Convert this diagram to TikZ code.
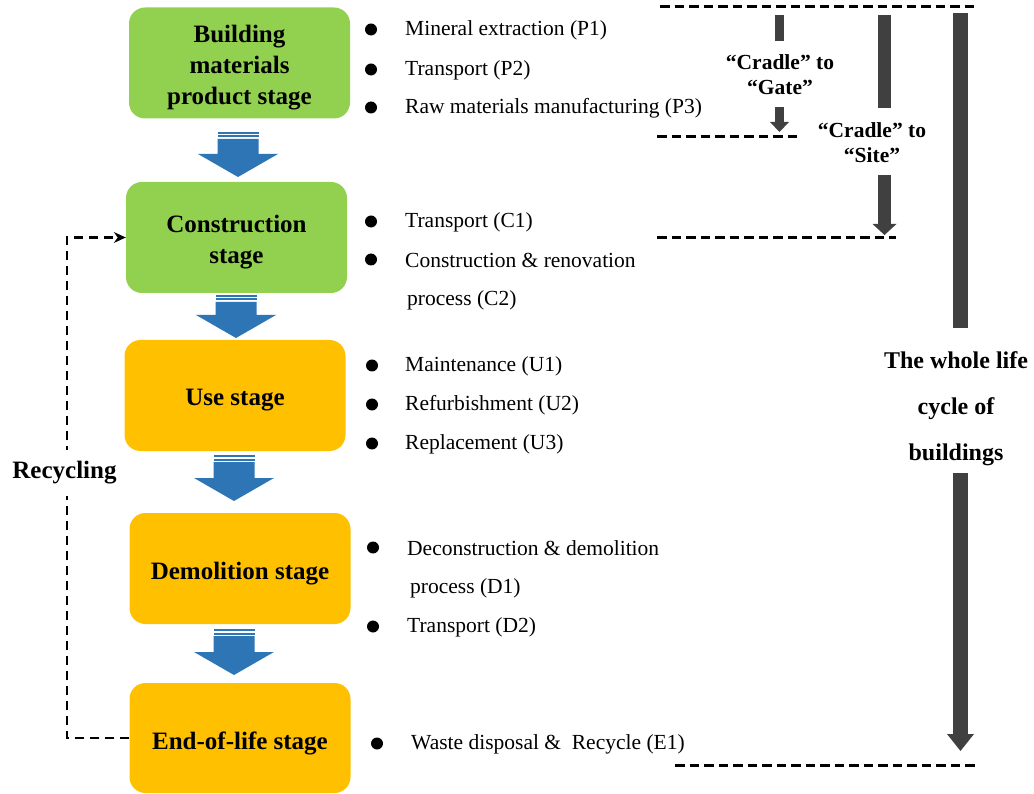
\documentclass[tikz,border=0pt]{standalone}
\usepackage{fontspec}
\setmainfont{Liberation Serif}
\usetikzlibrary{arrows.meta,positioning}

\definecolor{stagegreen}{HTML}{92D050}
\definecolor{stageorange}{HTML}{FFC000}
\definecolor{flowblue}{HTML}{2E75B6}
\definecolor{bargrey}{HTML}{404040}

\tikzset{
  stage/.style={rounded corners=16pt, minimum width=221pt, minimum height=111pt, inner sep=0pt},
  stagetext/.style={align=center, inner sep=0pt, yshift=-5pt, font=\bfseries\fontsize{25}{31}\selectfont},
  item/.style={anchor=west, inner sep=0pt, yshift=-2.5pt, font=\fontsize{21.5}{26}\selectfont},
  dot/.style={circle, fill=black, inner sep=0pt, minimum size=12pt, yshift=-1.5pt},
  bound/.style={line width=3pt, dash pattern=on 9.5pt off 5pt},
  bar/.style={draw=bargrey, line width=#1},
  scopelabel/.style={align=center, inner sep=0pt, font=\bfseries\fontsize{21.5}{25}\selectfont},
}

% block arrow between two stages: centre x, top y, tip y
\newcommand\stagearrow[3]{%
  \fill[flowblue] (#1-20.5,#2) rectangle (#1+20.5,#2+2);
  \fill[flowblue] (#1-20.5,#2+3.5) rectangle (#1+20.5,#2+5.5);
  \fill[flowblue] (#1-20.5,#2+7) -- (#1+20.5,#2+7) -- (#1+20.5,#3-23) -- (#1+40,#3-23)
    -- (#1,#3) -- (#1-40,#3-23) -- (#1-20.5,#3-23) -- cycle;
}

\begin{document}
\begin{tikzpicture}[x=1pt,y=-1pt]
\useasboundingbox (0,0) rectangle (1034,794);

% stages
\node[stage, fill=stagegreen] (b1) at (239.5,63) {};
\node[stage, fill=stagegreen] (b2) at (236.5,237.5) {};
\node[stage, fill=stageorange] (b3) at (235,395.5) {};
\node[stage, fill=stageorange] (b4) at (240,568.5) {};
\node[stage, fill=stageorange, minimum height=110pt] (b5) at (240,738) {};
\node[stagetext] (t1) at (b1) {Building\\materials\\product stage};
\node[stagetext] (t2) at (b2) {Construction\\stage};
\node[stagetext] (t3) at (b3) {Use stage};
\node[stagetext] (t4) at (b4) {Demolition stage};
\node[stagetext] (t5) at (b5) {End-of-life stage};

\stagearrow{238}{132}{177}
\stagearrow{236}{295}{338}
\stagearrow{234}{455}{501}
\stagearrow{234}{629}{675}

% recycling loop
\coordinate (rc) at (67,740);
\draw[line width=2.2pt, dash pattern=on 9pt off 6pt, -{Stealth[length=12pt,width=11pt,line width=0pt]}]
  (b5.west) -- (b5.west -| rc) -- (b2.west -| rc) -- (b2.west);
\node[fill=white, inner xsep=0pt, inner ysep=12pt, font=\bfseries\fontsize{25}{30}\selectfont]
  (recyc) at (64.5,473) {Recycling};

% process items
\foreach \y/\lab [count=\i] in {28/Mineral extraction (P1), 68/Transport (P2),
    106/Raw materials manufacturing (P3)}{
  \node[dot] (dp\i) at (371,\y) {};
  \node[item] (p\i) at (405,\y) {\lab};
}
\node[dot] (dc1) at (371,220) {};
\node[item] (c1) at (405,220) {Transport (C1)};
\node[dot] (dc2) at (371,258) {};
\node[item] (c2) at (405,258) {Construction \& renovation};
\node[item] (c2b) at (407,298) {process (C2)};

\foreach \y/\lab [count=\i] in {364/Maintenance (U1), 403/Refurbishment (U2),
    442/Replacement (U3)}{
  \node[dot] (du\i) at (372,\y) {};
  \node[item] (u\i) at (405,\y) {\lab};
}
\node[dot] (dd1) at (373,546) {};
\node[item] (d1) at (407,546) {Deconstruction \& demolition};
\node[item] (d1b) at (410,586) {process (D1)};
\node[dot] (dd2) at (373,625) {};
\node[item] (d2) at (407,625) {Transport (D2)};

\node[dot] (de1) at (377,742) {};
\node[item] (e1) at (411,742) {Waste disposal \&\ \ Recycle (E1)};

% system boundaries
\draw[bound] (660,7) -- (978,7);
\draw[bound] (657,137) -- (800,137);
\draw[bound] (657,238) -- (896,238);
\draw[bound] (675,765) -- (975,765);

% cradle to gate
\node[scopelabel] (gate) at (780,75) {“Cradle” to\\“Gate”};
\coordinate (gtop) at (779.5,15);
\coordinate (gend) at (779.5,132);
\draw[bar=9pt] (gtop) -- (gtop |- 0,41);
\draw[bar=9pt, -{Triangle[width=19pt,length=10pt,line width=0pt]}] (779.5,107) -- (gend);

% cradle to site
\node[scopelabel] (site) at (872,143) {“Cradle” to\\“Site”};
\coordinate (stop) at (884.5,15);
\coordinate (send) at (884.5,235);
\draw[bar=13pt] (stop) -- (884.5,108);
\draw[bar=13pt, -{Triangle[width=24pt,length=11pt,line width=0pt]}] (884.5,175) -- (send);

% whole life cycle
\node[align=center, inner sep=0pt, font=\bfseries\fontsize{24}{46}\selectfont]
  (whole) at (956,409) {The whole life\\cycle of\\buildings};
\coordinate (wtop) at (960.5,13);
\coordinate (wend) at (960.5,751);
\draw[bar=15pt] (wtop) -- (960.5,328);
\draw[bar=15pt, -{Triangle[width=27pt,length=17pt,line width=0pt]}] (960.5,473) -- (wend);
\end{tikzpicture}
\end{document}
